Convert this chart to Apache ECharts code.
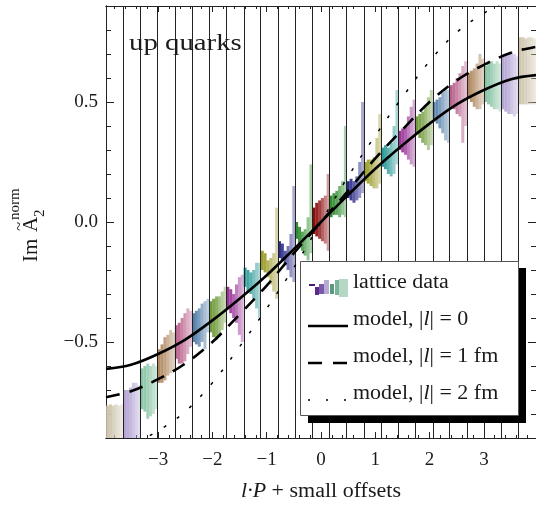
<!DOCTYPE html>
<html>
<head>
<meta charset="utf-8">
<script src="https://cdn.jsdelivr.net/npm/echarts@6/dist/echarts.min.js"></script>
<style>
html, body { margin: 0; padding: 0; background: #fff; }
#chart { width: 536px; height: 506px; }
</style>
</head>
<body>
<div id="chart"></div>
<script>
// ---- data ----
// bin centres (l*P) from -12 to 12
var binCenters = [-3.798, -3.482, -3.165, -2.849, -2.532, -2.216, -1.899, -1.583, -1.266, -0.950, -0.633, -0.317, 0,
	0.317, 0.633, 0.950, 1.266, 1.583, 1.899, 2.216, 2.532, 2.849, 3.165, 3.482, 3.798];
// grid lines between the bins
var binEdges = [-3.640, -3.323, -3.007, -2.690, -2.374, -2.057, -1.741, -1.424, -1.108, -0.791, -0.475, -0.158,
	0.158, 0.475, 0.791, 1.108, 1.424, 1.741, 2.057, 2.374, 2.690, 3.007, 3.323, 3.640];
// small offsets inside a bin
var subOffsets = [-0.132, -0.079, -0.026, 0.026, 0.079, 0.132];
var subAlpha = [1, 0.9, 0.78, 0.64, 0.5, 0.4];
var binColors = ['#cfc5ae', '#b4a4d4', '#88c4a4', '#b08860', '#b8608c', '#5680aa', '#6f9a3c', '#9a3598', '#2f9a9a', '#9c9c2c', '#2c2c8c', '#2e8b2e', '#8b0a0a',
	'#2e8b2e', '#2c2c8c', '#9c9c2c', '#2f9a9a', '#9a3598', '#6f9a3c', '#5680aa', '#b8608c', '#b08860', '#88c4a4', '#b4a4d4', '#cfc5ae'];

// upper / lower end of each error bar, per bin
var latticeHi = [
	[-0.765, -0.76, -0.765, -0.76, -0.765, -0.76],
	[-0.70, -0.70, -0.69, -0.67, -0.67, -0.68],
	[-0.61, -0.60, -0.59, -0.60, -0.59, -0.60],
	[-0.53, -0.51, -0.48, -0.47, -0.45, -0.46],
	[-0.43, -0.42, -0.40, -0.38, -0.36, -0.37],
	[-0.38, -0.37, -0.36, -0.34, -0.33, -0.32],
	[-0.33, -0.32, -0.31, -0.31, -0.29, -0.27],
	[-0.27, -0.28, -0.30, -0.26, -0.23, -0.22],
	[-0.19, -0.20, -0.21, -0.20, -0.17, -0.17],
	[-0.12, -0.13, -0.16, -0.15, -0.13, 0.06],
	[-0.08, -0.09, -0.12, -0.10, -0.05, 0.15],
	[0.00, -0.02, -0.04, -0.03, 0.02, 0.24],
	[0.06, 0.08, 0.09, 0.10, 0.11, 0.20],
	[0.11, 0.12, 0.13, 0.15, 0.17, 0.40],
	[0.17, 0.18, 0.17, 0.19, 0.25, 0.50],
	[0.25, 0.26, 0.26, 0.27, 0.35, 0.45],
	[0.31, 0.32, 0.31, 0.33, 0.40, 0.55],
	[0.38, 0.39, 0.40, 0.44, 0.48, 0.51],
	[0.44, 0.45, 0.46, 0.48, 0.52, 0.55],
	[0.50, 0.51, 0.52, 0.54, 0.56, 0.55],
	[0.57, 0.58, 0.60, 0.62, 0.65, 0.67],
	[0.62, 0.63, 0.64, 0.66, 0.70, 0.68],
	[0.65, 0.66, 0.67, 0.66, 0.67, 0.66],
	[0.69, 0.70, 0.70, 0.71, 0.70, 0.69],
	[0.77, 0.77, 0.765, 0.77, 0.77, 0.765]
];
var latticeLo = [
	[-0.94, -0.94, -0.94, -0.94, -0.94, -0.94],
	[-0.93, -0.92, -0.93, -0.94, -0.95, -0.94],
	[-0.78, -0.79, -0.82, -0.81, -0.80, -0.78],
	[-0.67, -0.67, -0.66, -0.64, -0.63, -0.62],
	[-0.57, -0.59, -0.59, -0.58, -0.55, -0.52],
	[-0.50, -0.51, -0.52, -0.50, -0.53, -0.46],
	[-0.46, -0.48, -0.49, -0.47, -0.45, -0.42],
	[-0.36, -0.38, -0.40, -0.42, -0.47, -0.50],
	[-0.27, -0.29, -0.30, -0.32, -0.36, -0.40],
	[-0.20, -0.21, -0.23, -0.26, -0.29, -0.32],
	[-0.15, -0.16, -0.18, -0.20, -0.23, -0.25],
	[-0.07, -0.09, -0.12, -0.14, -0.16, -0.13],
	[-0.05, -0.06, -0.07, -0.08, -0.09, -0.12],
	[0.02, 0.03, 0.03, 0.02, 0.03, 0.02],
	[0.10, 0.09, 0.08, 0.09, 0.10, 0.12],
	[0.17, 0.16, 0.15, 0.14, 0.14, 0.16],
	[0.23, 0.22, 0.20, 0.19, 0.20, 0.24],
	[0.30, 0.29, 0.28, 0.26, 0.24, 0.23],
	[0.37, 0.35, 0.33, 0.32, 0.30, 0.32],
	[0.43, 0.41, 0.39, 0.37, 0.34, 0.33],
	[0.48, 0.47, 0.45, 0.44, 0.33, 0.40],
	[0.52, 0.50, 0.48, 0.47, 0.47, 0.49],
	[0.50, 0.49, 0.48, 0.47, 0.47, 0.46],
	[0.47, 0.46, 0.45, 0.45, 0.44, 0.45],
	[0.49, 0.49, 0.49, 0.49, 0.49, 0.49]
];

// model curves
var modelX = [-3.96, -3.5, -3, -2.5, -2, -1.5, -1, -0.5, 0, 0.5, 1, 1.5, 2, 2.5, 3, 3.5, 3.96];
var model0 = [-0.612, -0.595, -0.55, -0.49, -0.41, -0.32, -0.222, -0.113, 0, 0.113, 0.222, 0.32, 0.41, 0.49, 0.55, 0.595, 0.612];
var model1 = [-0.73, -0.705, -0.655, -0.59, -0.50, -0.385, -0.265, -0.13, 0, 0.13, 0.265, 0.385, 0.50, 0.59, 0.655, 0.705, 0.73];
var model2 = [-0.97, -0.93, -0.87, -0.79, -0.67, -0.52, -0.36, -0.19, 0, 0.19, 0.36, 0.52, 0.67, 0.79, 0.87, 0.93, 0.97];

// ticks
var xMajor = [-3, -2, -1, 0, 1, 2, 3];
var xMinor = [-3.8, -3.6, -3.4, -3.2, -2.8, -2.6, -2.4, -2.2, -1.8, -1.6, -1.4, -1.2, -0.8, -0.6, -0.4, -0.2,
	0.2, 0.4, 0.6, 0.8, 1.2, 1.4, 1.6, 1.8, 2.2, 2.4, 2.6, 2.8, 3.2, 3.4, 3.6, 3.8];
var yMajor = [-0.5, 0, 0.5];
var yMinor = [-0.9, -0.8, -0.7, -0.6, -0.4, -0.3, -0.2, -0.1, 0.1, 0.2, 0.3, 0.4, 0.6, 0.7, 0.8, 0.9];

var F = '"Liberation Serif", "DejaVu Serif", serif';
var INK = '#1a1a1a';

function pair(xs, ys) {
	var out = [];
	for (var i = 0; i < xs.length; i++) out.push([xs[i], ys[i]]);
	return out;
}

var latticeData = [];
for (var b = 0; b < binCenters.length; b++) {
	for (var s = 0; s < subOffsets.length; s++) {
		latticeData.push([b, s, latticeLo[b][s], latticeHi[b][s]]);
	}
}

function renderBar(params, api) {
	var b = api.value(0), s = api.value(1);
	var x = binCenters[b] + subOffsets[s];
	var w = 0.0275;
	var p1 = api.coord([x - w, api.value(3)]);
	var p2 = api.coord([x + w, api.value(2)]);
	var rect = echarts.graphic.clipRectByRect({
		x: p1[0], y: p1[1], width: p2[0] - p1[0], height: p2[1] - p1[1]
	}, params.coordSys);
	if (!rect) return;
	return {
		type: 'rect',
		shape: rect,
		style: { fill: binColors[b], opacity: subAlpha[s] }
	};
}

function axis(dim, pos, ticks, len, labels, fmtFn) {
	var a = {
		type: 'value',
		position: pos,
		min: dim === 'x' ? -3.96 : -0.9,
		max: dim === 'x' ? 3.96 : 0.9,
		axisLine: { show: true, onZero: false, lineStyle: { color: '#222', width: 1 } },
		axisTick: { show: true, inside: true, length: len, customValues: ticks, lineStyle: { color: '#222', width: 1 } },
		axisLabel: { show: false },
		splitLine: { show: false }
	};
	if (labels) {
		a.axisLabel = {
			show: true, customValues: labels, formatter: fmtFn,
			fontFamily: F, fontSize: 19, color: INK, margin: dim === 'x' ? 13 : 8
		};
	}
	return a;
}

function minus(v, digits) {
	if (Math.abs(v) < 1e-9) return digits ? '0.0' : '0';
	return (v < 0 ? '\u2212' : '') + Math.abs(v).toFixed(digits);
}

var myChart = echarts.init(document.getElementById('chart'), null, { renderer: 'canvas' });

var richI = { i: { fontStyle: 'italic', fontFamily: F, fontSize: 20 } };

var option = {
	animation: false,
	grid: { left: 106, top: 6, width: 431, height: 432, containLabel: false },
	xAxis: [
		axis('x', 'bottom', xMajor, 6, xMajor, function (v) { return minus(v, 0); }),
		axis('x', 'bottom', xMinor, 3),
		axis('x', 'top', xMajor, 6),
		axis('x', 'top', xMinor, 3)
	],
	yAxis: [
		axis('y', 'left', yMajor, 8, yMajor, function (v) { return minus(v, 1); }),
		axis('y', 'left', yMinor, 5),
		axis('y', 'right', yMajor, 8),
		axis('y', 'right', yMinor, 5)
	],
	series: [
		{
			name: 'lattice data',
			type: 'custom',
			renderItem: renderBar,
			data: latticeData,
			encode: { x: -1, y: [2, 3] },
			z: 2,
			silent: true
		},
		{
			name: 'bins',
			type: 'line',
			data: [],
			z: 3,
			markLine: {
				silent: true,
				symbol: ['none', 'none'],
				label: { show: false },
				lineStyle: { color: '#222', width: 1, type: 'solid' },
				data: binEdges.map(function (v) { return { xAxis: v }; })
			}
		},
		{
			name: 'model, |l| = 0',
			type: 'line',
			data: pair(modelX, model0),
			smooth: 0.35,
			showSymbol: false,
			z: 5,
			lineStyle: { color: '#000', width: 2.6 }
		},
		{
			name: 'model, |l| = 1 fm',
			type: 'line',
			data: pair(modelX, model1),
			smooth: 0.35,
			showSymbol: false,
			z: 5,
			lineStyle: { color: '#000', width: 2.6, type: [14, 10] }
		},
		{
			name: 'model, |l| = 2 fm',
			type: 'line',
			data: pair(modelX, model2),
			smooth: 0.35,
			showSymbol: false,
			z: 5,
			lineStyle: { color: '#000', width: 1.5, type: [3, 13] }
		}
	],
	graphic: [
		{
			type: 'text', x: 129, y: 44, scaleX: 1.2, z: 100,
			style: { text: 'up quarks', font: '24px ' + F, fill: INK, textVerticalAlign: 'middle' }
		},
		// y axis title, rotated
		{
			type: 'group', x: 42, y: 262, rotation: Math.PI / 2, z: 100,
			children: [
				{ type: 'text', x: 0, y: 0, style: { text: 'Im', font: '21px ' + F, fill: INK, textVerticalAlign: 'bottom' } },
				{ type: 'text', x: 30, y: 0, style: { text: 'A', font: '21px ' + F, fill: INK, textVerticalAlign: 'bottom' } },
				{ type: 'text', x: 31, y: -14, style: { text: '~', font: '17px ' + F, fill: INK, textVerticalAlign: 'bottom' } },
				{ type: 'text', x: 45, y: 6, style: { text: '2', font: '15px ' + F, fill: INK, textVerticalAlign: 'bottom' } },
				{ type: 'text', x: 42, y: -19, style: { text: 'norm', font: '15px ' + F, fill: INK, textVerticalAlign: 'bottom' } }
			]
		},
		// x axis title
		{
			type: 'text', x: 321, y: 492, scaleX: 1.1, z: 100,
			style: {
				text: '{i|l\u00b7P} + small offsets',
				font: '20px ' + F, fill: INK, textAlign: 'center', textVerticalAlign: 'middle',
				rich: richI
			}
		},
		// legend box
		{ type: 'rect', z: 100, shape: { x: 308, y: 268, width: 218, height: 155 }, style: { fill: '#000' } },
		{ type: 'rect', z: 101, shape: { x: 300.5, y: 261.5, width: 218, height: 154 }, style: { fill: '#fff', stroke: '#555', lineWidth: 1 } },
		{ type: 'rect', z: 102, shape: { x: 309, y: 284, width: 6, height: 2 }, style: { fill: '#4a1a7a' } },
		{ type: 'rect', z: 102, shape: { x: 315, y: 287, width: 4, height: 8 }, style: { fill: '#5a2a8a' } },
		{ type: 'rect', z: 102, shape: { x: 319, y: 284, width: 5, height: 10 }, style: { fill: '#7a5aa8' } },
		{ type: 'rect', z: 102, shape: { x: 324, y: 280, width: 5, height: 14 }, style: { fill: '#b8aad4' } },
		{ type: 'rect', z: 102, shape: { x: 330, y: 284, width: 4, height: 10 }, style: { fill: '#5a9a7a' } },
		{ type: 'rect', z: 102, shape: { x: 335, y: 280, width: 4, height: 15 }, style: { fill: '#7ab49a' } },
		{ type: 'rect', z: 102, shape: { x: 339, y: 279, width: 9, height: 18 }, style: { fill: '#b4d8c4' } },
		{ type: 'line', z: 102, shape: { x1: 308, y1: 326, x2: 348, y2: 326 }, style: { stroke: '#000', lineWidth: 2.6 } },
		{ type: 'line', z: 102, shape: { x1: 308, y1: 363, x2: 348, y2: 363 }, style: { stroke: '#000', lineWidth: 2.6, lineDash: [14, 11] } },
		{ type: 'line', z: 102, shape: { x1: 308, y1: 400, x2: 348, y2: 400 }, style: { stroke: '#000', lineWidth: 1.5, lineDash: [2, 16] } },
		{
			type: 'text', z: 102, x: 353, y: 283, scaleX: 1.1,
			style: { text: 'lattice data', font: '20px ' + F, fill: INK, textVerticalAlign: 'middle' }
		},
		{
			type: 'text', z: 102, x: 353, y: 320, scaleX: 1.1,
			style: { text: 'model, |{i|l}| = 0', font: '20px ' + F, fill: INK, textVerticalAlign: 'middle', rich: richI }
		},
		{
			type: 'text', z: 102, x: 353, y: 357, scaleX: 1.1,
			style: { text: 'model, |{i|l}| = 1 fm', font: '20px ' + F, fill: INK, textVerticalAlign: 'middle', rich: richI }
		},
		{
			type: 'text', z: 102, x: 353, y: 394, scaleX: 1.1,
			style: { text: 'model, |{i|l}| = 2 fm', font: '20px ' + F, fill: INK, textVerticalAlign: 'middle', rich: richI }
		}
	]
};

myChart.setOption(option);
</script>
</body>
</html>
